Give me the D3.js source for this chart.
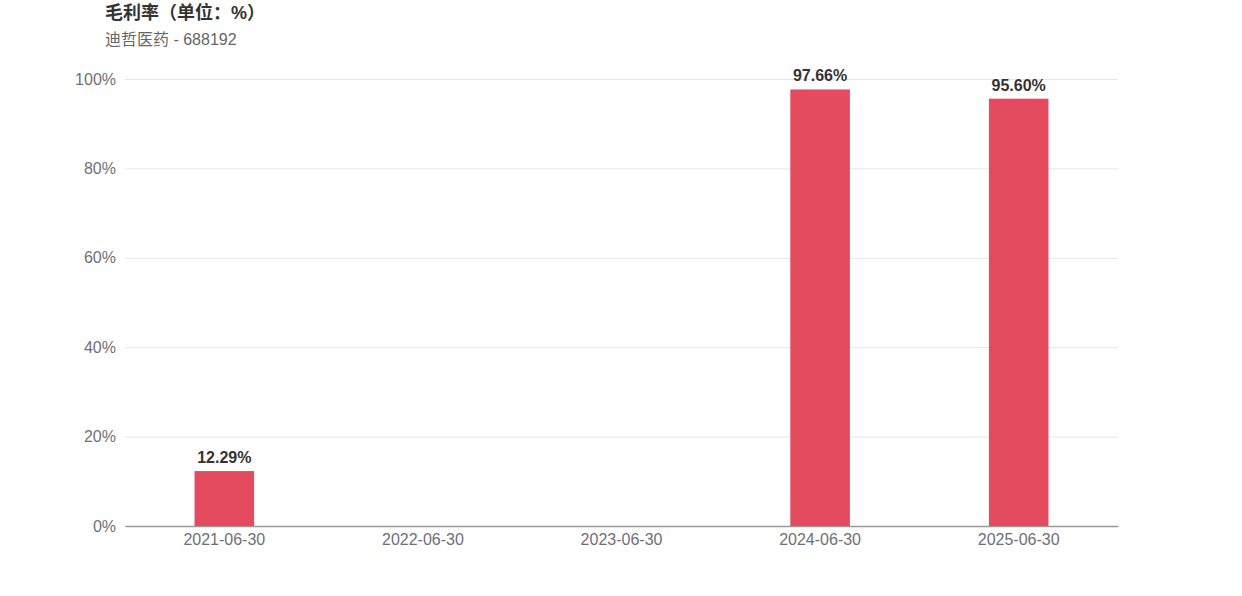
<!DOCTYPE html>
<html><head><meta charset="utf-8">
<script src="https://cdn.jsdelivr.net/npm/d3@7"></script>
<style>body{margin:0;background:#fff;font-family:"Liberation Sans",Arial,"Noto Sans CJK SC",sans-serif;}</style>
</head><body><svg id="c" width="1242" height="596"></svg>
<script>
const categories = ["2021-06-30","2022-06-30","2023-06-30","2024-06-30","2025-06-30"];
const values = [12.29, null, null, 97.66, 95.60];
const yTicks = [0,20,40,60,80,100];
const title = "毛利率（单位：%）";
const subtitle = "迪哲医药 - 688192";

const svg = d3.select("#c");
const m = {l:125, r:1118, t:79, b:526};
const x = d3.scaleBand().domain(categories).range([m.l, m.r]).paddingInner(0).paddingOuter(0);
const y = d3.scaleLinear().domain([0,100]).range([m.b, m.t]);
const font = '"Liberation Sans",Arial,"Noto Sans CJK SC",sans-serif';

svg.append("text").attr("x",105).attr("y",19).attr("font-size",18).attr("font-weight","bold")
  .attr("fill","#333").attr("font-family",font).text(title);
svg.append("text").attr("x",105).attr("y",45).attr("font-size",16)
  .attr("fill","#666").attr("font-family",font).text(subtitle);

const ya = svg.append("g").attr("transform",`translate(${m.l},0)`)
  .call(d3.axisLeft(y).tickValues(yTicks).tickFormat(d=>d+"%").tickSize(-(m.r-m.l)).tickPadding(9));
ya.select(".domain").remove();
ya.selectAll("line").attr("stroke","#e6e6e6");
ya.selectAll("text").attr("fill","#6e7079").attr("font-size",16).attr("font-family",font);

const xa = svg.append("g").attr("transform",`translate(0,${m.b})`)
  .call(d3.axisBottom(x).tickSize(0).tickPadding(8));
xa.select(".domain").attr("stroke","#999").attr("stroke-width",1.3);
xa.selectAll("text").attr("fill","#6e7079").attr("font-size",16).attr("font-family",font);

const bw = x.bandwidth()*0.3;
const data = categories.map((c,i)=>({c, v:values[i]})).filter(d=>d.v!=null);
svg.append("g").selectAll("rect").data(data).join("rect")
  .attr("x",d=>x(d.c)+x.bandwidth()/2-bw/2).attr("width",bw)
  .attr("y",d=>y(d.v)).attr("height",d=>y(0)-y(d.v)).attr("fill","#e54b5e");
svg.append("g").selectAll("text").data(data).join("text")
  .attr("x",d=>x(d.c)+x.bandwidth()/2).attr("y",d=>y(d.v)-8)
  .attr("text-anchor","middle").attr("font-size",16).attr("font-weight","bold")
  .attr("fill","#333").attr("font-family",font).text(d=>d.v.toFixed(2)+"%");
</script></body></html>
